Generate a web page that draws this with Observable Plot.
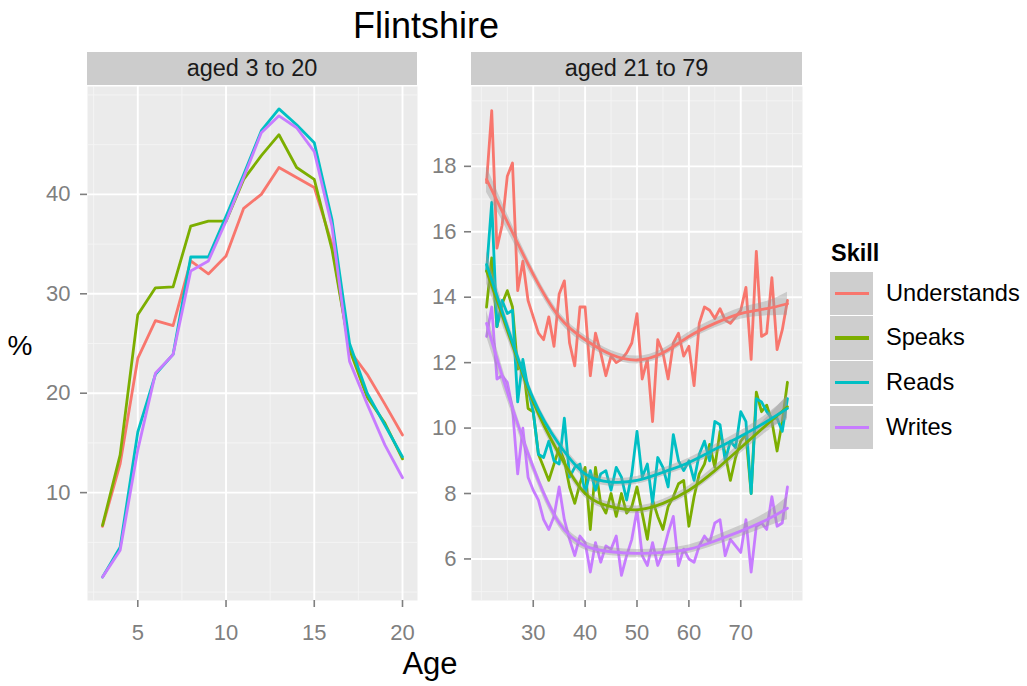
<!DOCTYPE html>
<html>
<head>
<meta charset="utf-8">
<script src="https://cdn.jsdelivr.net/npm/d3@7"></script>
<script src="https://cdn.jsdelivr.net/npm/@observablehq/plot@0.6"></script>
<style>
  body { margin: 0; background: #ffffff; font-family: "Liberation Sans", Arial, sans-serif; }
  #root { position: relative; width: 1027px; height: 686px; overflow: hidden; background: #ffffff; }
  .abs { position: absolute; }
  .strip { position: absolute; background: #cccccc; color: #1a1a1a; font-size: 23.5px;
           display: flex; align-items: center; justify-content: center; }
  .key { position: absolute; background: #cecece; }
  .keyline { position: absolute; height: 3.2px; }
  .lab { position: absolute; font-size: 23.6px; color: #000; line-height: 1; display: flex; align-items: center; }
</style>
</head>
<body>
<div id="root"></div>
<script>
// ---------- data ----------
const skills = ["Understands", "Speaks", "Reads", "Writes"];
const colors = ["#F8766D", "#7CAE00", "#00BFC4", "#C77CFF"];

// panel "aged 3 to 20"
const agesYoung = [3,4,5,6,7,8,9,10,11,12,13,14,15,16,17,18,19,20];
const youngUnderstands = [6.6,12.9,23.5,27.3,26.8,33.3,32.0,33.8,38.6,40.0,42.7,41.7,40.7,35.0,24.3,21.9,18.9,15.8];
const youngSpeaks      = [6.7,13.8,27.9,30.6,30.7,36.8,37.3,37.3,41.5,43.9,46.0,42.7,41.5,34.5,24.4,19.6,17.0,13.4];
const youngReads       = [1.5,4.5,16.1,21.9,23.9,33.7,33.7,37.8,42.0,46.4,48.6,47.0,45.2,37.5,25.0,20.0,16.8,13.6];
const youngWrites      = [1.5,4.2,14.3,22.0,23.9,32.3,33.3,37.3,41.7,46.2,47.9,46.7,44.3,36.8,23.2,18.9,14.8,11.5];

// panel "aged 21 to 79"
const agesAdult = [21,22,23,24,25,26,27,28,29,30,31,32,33,34,35,36,37,38,39,40,
                   41,42,43,44,45,46,47,48,49,50,51,52,53,54,55,56,57,58,59,60,
                   61,62,63,64,65,66,67,68,69,70,71,72,73,74,75,76,77,78,79];
const adultUnderstands = [17.5,19.7,15.5,16.2,17.7,18.1,14.2,15.1,13.9,13.4,
                          12.9,12.7,13.4,12.5,14.1,14.5,12.6,11.9,13.7,13.7,
                          11.6,12.9,12.3,11.6,12.2,12.0,12.1,12.3,12.6,13.5,
                          11.5,12.1,10.2,12.7,12.3,11.5,12.6,12.9,12.2,12.5,
                          11.3,13.2,13.7,13.6,13.35,13.65,13.3,13.2,13.4,13.6,
                          14.3,12.1,15.4,12.8,12.9,14.6,12.4,13.0,13.9];
const adultSpeaks      = [13.7,15.2,13.1,13.8,14.2,13.7,11.8,12.0,10.6,10.5,
                          9.2,8.8,8.4,8.9,9.4,9.0,8.2,7.7,8.3,8.8,
                          6.9,8.8,7.7,7.4,8.0,7.3,8.0,7.4,7.6,8.2,
                          7.4,6.6,7.8,7.3,6.9,7.6,7.9,8.3,8.4,7.0,
                          7.9,8.6,8.9,9.5,8.8,9.9,9.2,8.4,9.1,9.6,
                          9.8,8.0,11.1,10.5,10.7,10.2,9.3,10.2,11.4];
const adultReads       = [14.8,16.9,13.1,13.9,13.5,13.6,10.8,12.1,11.2,10.5,
                          9.2,9.1,9.6,9.0,8.9,10.3,8.5,8.8,8.9,8.0,
                          8.7,8.1,8.6,8.7,8.1,8.8,8.5,7.8,8.6,9.9,
                          8.5,8.9,7.7,9.1,8.8,8.2,9.8,9.0,8.7,9.0,
                          8.4,9.2,9.6,9.0,10.2,10.1,9.0,9.6,9.4,10.5,
                          10.2,8.0,10.9,10.8,10.5,10.3,10.3,9.9,10.9];
const adultWrites      = [12.8,13.7,11.5,11.6,11.4,10.6,8.6,10.0,8.5,8.1,
                          7.8,7.2,6.9,7.3,8.2,7.2,6.6,6.1,6.7,6.5,
                          5.6,6.5,5.9,6.4,6.3,6.7,5.5,6.1,6.6,7.5,
                          6.1,5.8,6.5,5.8,6.2,6.8,7.3,5.8,6.3,6.0,
                          5.9,6.4,6.7,6.5,7.1,7.2,6.1,6.6,6.4,6.2,
                          7.2,5.6,7.0,7.1,6.9,7.9,7.0,7.1,8.2];

// smoothed fits (loess curves) and half-width of their bands
const smoothAges = [21,25,30,35,40,45,50,55,60,65,70,75,79];
const smoothUnderstands = [17.6,16.3,14.7,13.4,12.7,12.25,12.08,12.3,12.8,13.2,13.5,13.65,13.8];
const smoothSpeaks      = [14.8,13.0,10.8,9.2,8.0,7.6,7.5,7.7,8.1,8.7,9.4,10.1,10.65];
const smoothReads       = [15.0,13.1,10.9,9.5,8.6,8.35,8.4,8.65,8.95,9.35,9.75,10.2,10.6];
const smoothWrites      = [13.2,11.1,8.8,7.1,6.4,6.22,6.17,6.2,6.3,6.55,6.85,7.2,7.55];
const smoothBand        = [0.4,0.25,0.17,0.14,0.13,0.12,0.12,0.12,0.13,0.14,0.17,0.22,0.35];

// tick labels / grid breaks
const youngXTicks = [5, 10, 15, 20];
const youngXMinor = [2.5, 7.5, 12.5, 17.5];
const youngYTicks = [10, 20, 30, 40];
const youngYMinor = [0, 5, 15, 25, 35, 45, 50];
const adultXTicks = [30, 40, 50, 60, 70];
const adultXMinor = [20, 25, 35, 45, 55, 65, 75, 80];
const adultYTicks = [6, 8, 10, 12, 14, 16, 18];
const adultYMinor = [5, 7, 9, 11, 13, 15, 17, 19, 20];

// ---------- tables ----------
function toLong(ages, list) {
  const out = [];
  skills.forEach((s, i) => list[i].forEach((v, j) => out.push({age: ages[j], skill: s, value: v})));
  return out;
}
const youngData = toLong(agesYoung, [youngUnderstands, youngSpeaks, youngReads, youngWrites]);
const adultData = toLong(agesAdult, [adultUnderstands, adultSpeaks, adultReads, adultWrites]);
const smoothData = [];
[smoothUnderstands, smoothSpeaks, smoothReads, smoothWrites].forEach((arr, i) =>
  arr.forEach((v, j) => smoothData.push({age: smoothAges[j], skill: skills[i], fit: v,
    lo: v - smoothBand[j], hi: v + smoothBand[j]})));

// ---------- drawing ----------
const root = document.getElementById("root");
const FONT = "'Liberation Sans', Arial, sans-serif";
const GREY = "#7f7f7f";

function panel({xDomain, yDomain, xTicks, xMinor, yTicks, yMinor, data, smooth, width, mL, mR, yPad}) {
  const marks = [
    Plot.frame({fill: "#ebebeb", stroke: null}),
    Plot.gridX(xMinor, {stroke: "#f5f5f5", strokeOpacity: 1, strokeWidth: 0.9}),
    Plot.gridY(yMinor, {stroke: "#f5f5f5", strokeOpacity: 1, strokeWidth: 0.9}),
    Plot.gridX(xTicks, {stroke: "#ffffff", strokeOpacity: 1, strokeWidth: 1.9}),
    Plot.gridY(yTicks, {stroke: "#ffffff", strokeOpacity: 1, strokeWidth: 1.9}),
    Plot.axisX(xTicks, {anchor: "bottom", label: null, tickSize: 7, tickPadding: 17,
      fontSize: 22, stroke: GREY, fill: GREY, color: GREY, strokeWidth: 1.6}),
    Plot.axisY(yTicks, {anchor: "left", label: null, tickSize: 7, tickPadding: yPad,
      fontSize: 22, stroke: GREY, fill: GREY, color: GREY, strokeWidth: 1.6}),
    Plot.line(data, {x: "age", y: "value", stroke: "skill", z: "skill", strokeWidth: 2.8})
  ];
  if (smooth) {
    marks.push(Plot.areaY(smooth, {x: "age", y1: "lo", y2: "hi", z: "skill",
      fill: "#999999", fillOpacity: 0.4, curve: "natural"}));
    marks.push(Plot.line(smooth, {x: "age", y: "fit", stroke: "skill", z: "skill",
      strokeWidth: 2.8, curve: "natural"}));
  }
  return Plot.plot({
    width, height: 686,
    marginLeft: mL, marginRight: mR, marginTop: 86, marginBottom: 86,
    x: {domain: xDomain, axis: null},
    y: {domain: yDomain, axis: null},
    color: {domain: skills, range: colors},
    style: {fontFamily: FONT, fontSize: "22px", background: "transparent", overflow: "visible"},
    marks
  });
}

function place(el, left, top) {
  const d = document.createElement("div");
  d.className = "abs";
  d.style.left = left + "px";
  d.style.top = top + "px";
  d.appendChild(el);
  root.appendChild(d);
  return d;
}

const left = panel({xDomain: [2.15, 20.85], yDomain: [-0.85, 50.85],
  xTicks: youngXTicks, xMinor: youngXMinor, yTicks: youngYTicks, yMinor: youngYMinor,
  data: youngData, smooth: null, width: 440, mL: 87, mR: 23, yPad: 10});
place(left, 0, 0);

const right = panel({xDomain: [18.1, 81.9], yDomain: [4.73, 20.44],
  xTicks: adultXTicks, xMinor: adultXMinor, yTicks: adultYTicks, yMinor: adultYMinor,
  data: adultData, smooth: smoothData, width: 400, mL: 51, mR: 18, yPad: 8});
place(right, 420, 0);

function html(tag, cls, style, text) {
  const e = document.createElement(tag);
  if (cls) e.className = cls;
  Object.assign(e.style, style);
  if (text != null) e.textContent = text;
  root.appendChild(e);
  return e;
}

// title
html("div", "abs", {left: "0px", top: "8px", width: "852px", textAlign: "center",
  fontSize: "36px", lineHeight: "36px", color: "#000"}, "Flintshire");

// strips
html("div", "strip", {left: "87px", top: "52px", width: "330px", height: "33px"}, "aged 3 to 20");
html("div", "strip", {left: "471px", top: "52px", width: "331px", height: "33px"}, "aged 21 to 79");

// axis titles
html("div", "abs", {left: "0px", top: "332px", width: "40px", textAlign: "center",
  fontSize: "28px", lineHeight: "28px", color: "#000"}, "%");
html("div", "abs", {left: "330px", top: "648px", width: "200px", textAlign: "center",
  fontSize: "31px", lineHeight: "31px", color: "#000"}, "Age");

// legend
html("div", "abs", {left: "831px", top: "242px", fontSize: "23.5px", lineHeight: "23.5px",
  fontWeight: "bold", color: "#000"}, "Skill");
const keyTops = [271.7, 316.4, 361.1, 405.8];
skills.forEach((s, i) => {
  const t = keyTops[i];
  html("div", "key", {left: "830px", top: t + "px", width: "43px", height: "43.3px"});
  html("div", "keyline", {left: "835px", top: (t + 20) + "px", width: "34px", background: colors[i]});
  html("div", "lab", {left: "886px", top: t + "px", height: "43.3px"}, s);
});
</script>
</body>
</html>
